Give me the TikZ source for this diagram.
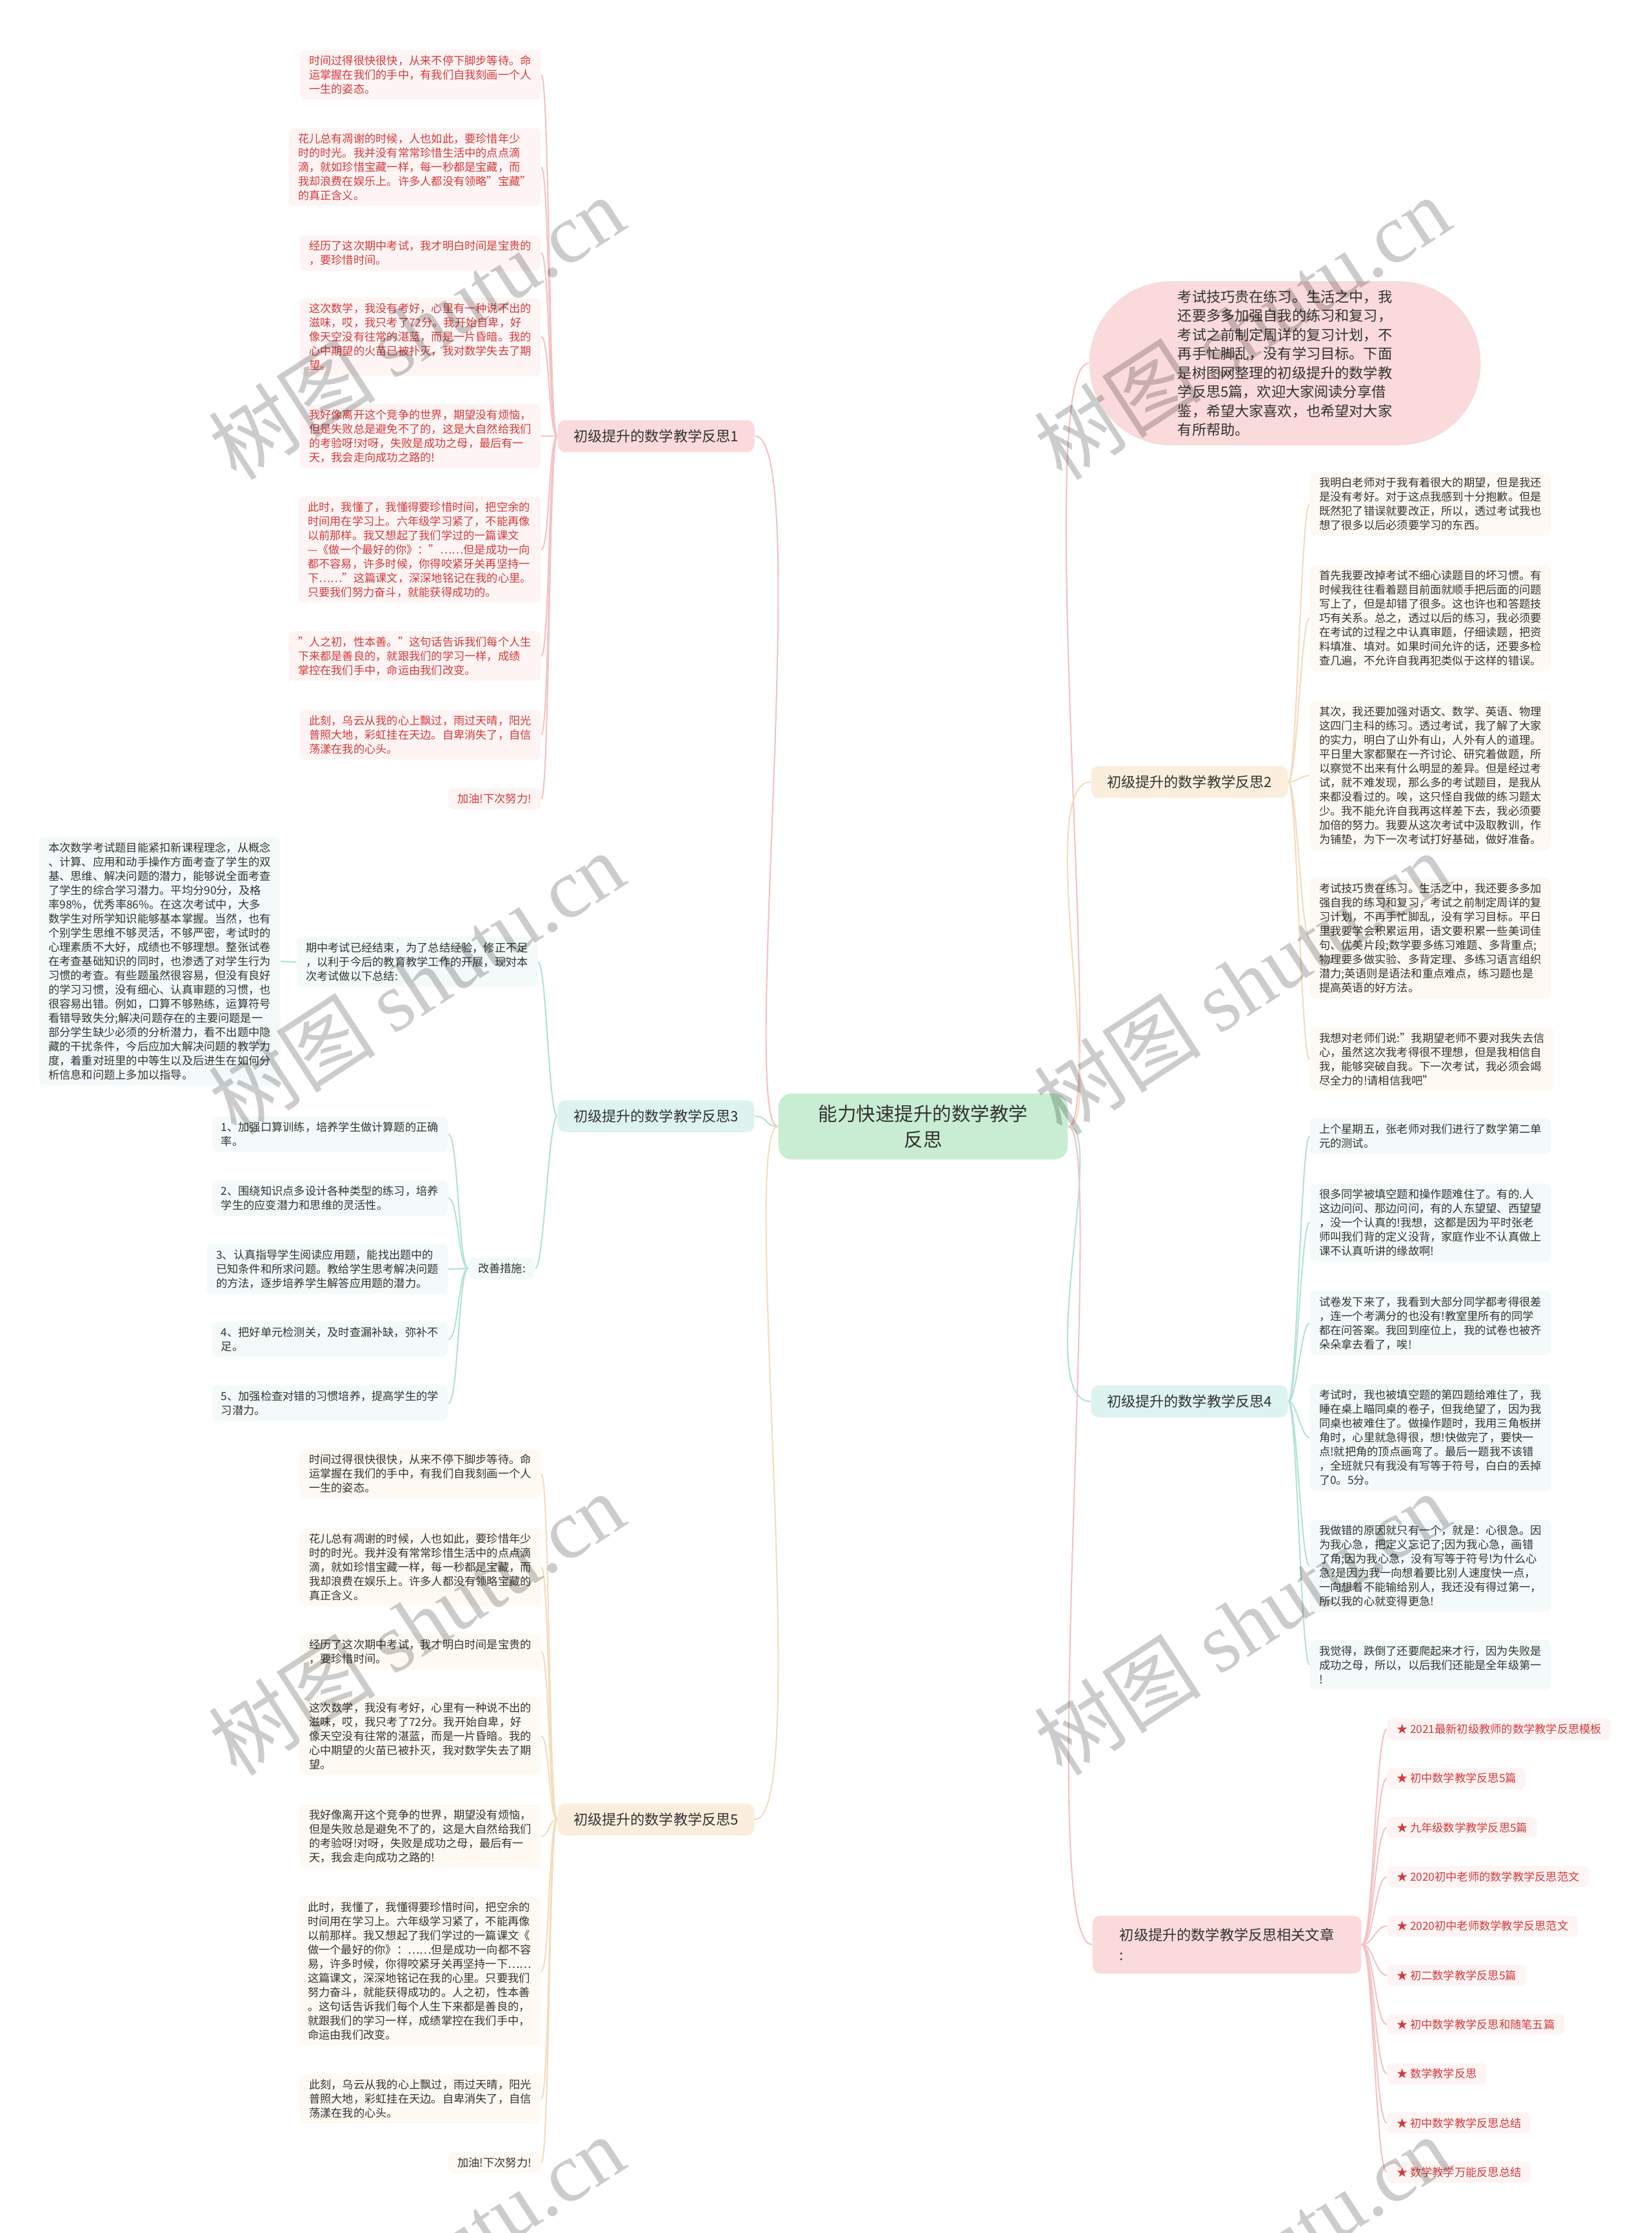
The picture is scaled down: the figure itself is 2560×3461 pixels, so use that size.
\documentclass[tikz,border=0pt]{standalone}
\usepackage{fontspec}
\setmainfont{Noto Sans CJK SC}
\newfontfamily\wmfont{Liberation Serif}
\definecolor{txt}{HTML}{333333}
\definecolor{tred}{HTML}{D23A3A}
\definecolor{cgreen}{HTML}{C8EDD3}
\definecolor{cpink}{HTML}{FADADA}
\definecolor{cmint}{HTML}{DDF3EF}
\definecolor{cbeige}{HTML}{FCEEDD}
\definecolor{lpink}{HTML}{FEF4F4}
\definecolor{lmint}{HTML}{F3FAF9}
\definecolor{lbeige}{HTML}{FEFAF3}
\definecolor{pline}{HTML}{F3C3C3}
\definecolor{mline}{HTML}{B3E2D9}
\definecolor{bline}{HTML}{F4DCBC}
\begin{document}
\begin{tikzpicture}[x=0.01cm, y=-0.01cm,
	root/.style={fill=cgreen, rounded corners=6pt, align=center, text=txt,
		font=\fontsize{8.4pt}{11.3pt}\selectfont, inner xsep=17.6pt, inner ysep=5pt},
	branch/.style={rounded corners=3.4pt, align=left, text=txt,
		font=\fontsize{6.3pt}{8.8pt}\selectfont, inner xsep=7pt, inner ysep=4.1pt},
	leaf/.style={rounded corners=2.3pt, align=left, text=txt,
		font=\fontsize{4.9pt}{6.26pt}\selectfont, inner xsep=4.1pt, inner ysep=2.4pt},
	oneleaf/.style={leaf, anchor=east, fill=lpink, text=tred},
	threeleaf/.style={leaf, anchor=east, fill=lmint},
	fiveleaf/.style={leaf, anchor=east, fill=lbeige},
	twoleaf/.style={leaf, anchor=west, fill=lbeige},
	fourleaf/.style={leaf, anchor=west, fill=lmint},
	relitem/.style={leaf, anchor=west, fill=lpink, text=tred},
	plink/.style={draw=pline, line width=0.6pt},
	mlink/.style={draw=mline, line width=0.6pt},
	blink/.style={draw=bline, line width=0.6pt},
	wmtext/.style={rotate=33, text=black, text opacity=0.2,
		font=\fontsize{37pt}{40pt}\selectfont},
	]
	\fill[white] (0,0) rectangle (2560,3461);
	\useasboundingbox (0,0) rectangle (2560,3461);
	
	% centre
	\node[root] (root) at (1431,1746) {能力快速提升的数学教学\\反思};
	
	% branches
	\node[branch, fill=cpink] (b1) at (1017,676) {初级提升的数学教学反思1};
	\node[branch, fill=cmint] (b3) at (1017,1730) {初级提升的数学教学反思3};
	\node[branch, fill=cbeige] (b5) at (1017,2820) {初级提升的数学教学反思5};
	\node[branch, fill=cbeige] (b2) at (1844,1212) {初级提升的数学教学反思2};
	\node[branch, fill=cmint] (b4) at (1844,2172) {初级提升的数学教学反思4};
	\node[branch, fill=cpink, anchor=west, inner xsep=12pt, inner ysep=5.6pt] (rel) at (1693,3014) {初级提升的数学教学反思相关文章\\:};
	\node[branch, fill=cpink, rounded corners=36pt, inner xsep=39pt, inner ysep=3.8pt,
		font=\fontsize{6.3pt}{8.4pt}\selectfont] (intro) at (1992,563) {考试技巧贵在练习。生活之中，我\\还要多多加强自我的练习和复习，\\考试之前制定周详的复习计划，不\\再手忙脚乱，没有学习目标。下面\\是树图网整理的初级提升的数学教\\学反思5篇，欢迎大家阅读分享借\\鉴，希望大家喜欢，也希望对大家\\有所帮助。};
	
	\draw[plink] (root.west) .. controls +(-60,0) and +(90,0) .. (b1.east);
	\draw[mlink] (root.west) .. controls +(-20,0) and +(20,0) .. (b3.east);
	\draw[blink] (root.west) .. controls +(-60,0) and +(90,0) .. (b5.east);
	\draw[plink] (root.east) .. controls +(60,0) and +(-90,0) .. (intro.west);
	\draw[blink] (root.east) .. controls +(60,0) and +(-90,0) .. (b2.west);
	\draw[mlink] (root.east) .. controls +(60,0) and +(-90,0) .. (b4.west);
	\draw[plink] (root.east) .. controls +(60,0) and +(-90,0) .. (rel.west);
	
	% reflection 1
	\node[oneleaf] (l1a) at (839,116) {时间过得很快很快，从来不停下脚步等待。命\\运掌握在我们的手中，有我们自我刻画一个人\\一生的姿态。};
	\node[oneleaf] (l1b) at (839,259) {花儿总有凋谢的时候，人也如此，要珍惜年少\\时的时光。我并没有常常珍惜生活中的点点滴\\滴，就如珍惜宝藏一样，每一秒都是宝藏，而\\我却浪费在娱乐上。许多人都没有领略"宝藏"\\的真正含义。};
	\node[oneleaf] (l1c) at (839,392) {经历了这次期中考试，我才明白时间是宝贵的\\，要珍惜时间。};
	\node[oneleaf] (l1d) at (839,522) {这次数学，我没有考好，心里有一种说不出的\\滋味，哎，我只考了72分。我开始自卑，好\\像天空没有往常的湛蓝，而是一片昏暗。我的\\心中期望的火苗已被扑灭，我对数学失去了期\\望。};
	\node[oneleaf] (l1e) at (839,676) {我好像离开这个竞争的世界，期望没有烦恼，\\但是失败总是避免不了的，这是大自然给我们\\的考验呀!对呀，失败是成功之母，最后有一\\天，我会走向成功之路的!};
	\node[oneleaf] (l1f) at (839,852) {此时，我懂了，我懂得要珍惜时间，把空余的\\时间用在学习上。六年级学习紧了，不能再像\\以前那样。我又想起了我们学过的一篇课文\\—《做一个最好的你》："……但是成功一向\\都不容易，许多时候，你得咬紧牙关再坚持一\\下……"这篇课文，深深地铭记在我的心里。\\只要我们努力奋斗，就能获得成功的。};
	\node[oneleaf] (l1g) at (839,1017) {"人之初，性本善。"这句话告诉我们每个人生\\下来都是善良的，就跟我们的学习一样，成绩\\掌控在我们手中，命运由我们改变。};
	\node[oneleaf] (l1h) at (839,1139) {此刻，乌云从我的心上飘过，雨过天晴，阳光\\普照大地，彩虹挂在天边。自卑消失了，自信\\荡漾在我的心头。};
	\node[oneleaf] (l1i) at (839,1238) {加油!下次努力!};
	\foreach \n in {l1a,l1b,l1c,l1d,l1e,l1f,l1g,l1h,l1i}
		\draw[plink] (b1.west) .. controls +(-13,0) and +(13,0) .. (\n.east);
	
	% reflection 3
	\node[threeleaf] (b3a) at (834,1491) {期中考试已经结束，为了总结经验，修正不足\\，以利于今后的教育教学工作的开展，现对本\\次考试做以下总结:};
	\node[threeleaf] (b3b) at (435,1490) {本次数学考试题目能紧扣新课程理念，从概念\\、计算、应用和动手操作方面考查了学生的双\\基、思维、解决问题的潜力，能够说全面考查\\了学生的综合学习潜力。平均分90分，及格\\率98\%，优秀率86\%。在这次考试中，大多\\数学生对所学知识能够基本掌握。当然，也有\\个别学生思维不够灵活，不够严密，考试时的\\心理素质不大好，成绩也不够理想。整张试卷\\在考查基础知识的同时，也渗透了对学生行为\\习惯的考查。有些题虽然很容易，但没有良好\\的学习习惯，没有细心、认真审题的习惯，也\\很容易出错。例如，口算不够熟练，运算符号\\看错导致失分;解决问题存在的主要问题是一\\部分学生缺少必须的分析潜力，看不出题中隐\\藏的干扰条件，今后应加大解决问题的教学力\\度，着重对班里的中等生以及后进生在如何分\\析信息和问题上多加以指导。};
	\node[threeleaf] (b3c) at (830,1966) {改善措施:};
	\node[threeleaf] (m1) at (695,1758) {1、加强口算训练，培养学生做计算题的正确\\率。};
	\node[threeleaf] (m2) at (695,1857) {2、围绕知识点多设计各种类型的练习，培养\\学生的应变潜力和思维的灵活性。};
	\node[threeleaf] (m3) at (695,1967) {3、认真指导学生阅读应用题，能找出题中的\\已知条件和所求问题。教给学生思考解决问题\\的方法，逐步培养学生解答应用题的潜力。};
	\node[threeleaf] (m4) at (695,2076) {4、把好单元检测关，及时查漏补缺，弥补不\\足。};
	\node[threeleaf] (m5) at (695,2175) {5、加强检查对错的习惯培养，提高学生的学\\习潜力。};
	\draw[mlink] (b3.west) .. controls +(-13,0) and +(13,0) .. (b3a.east);
	\draw[mlink] (b3.west) .. controls +(-13,0) and +(13,0) .. (b3c.east);
	\draw[mlink] (b3a.west) -- (b3b.east);
	\foreach \n in {m1,m2,m3,m4,m5}
		\draw[mlink] (b3c.west) .. controls +(-16,0) and +(16,0) .. (\n.east);
	
	% reflection 5
	\node[fiveleaf] (l5a) at (839,2284) {时间过得很快很快，从来不停下脚步等待。命\\运掌握在我们的手中，有我们自我刻画一个人\\一生的姿态。};
	\node[fiveleaf] (l5b) at (839,2429) {花儿总有凋谢的时候，人也如此，要珍惜年少\\时的时光。我并没有常常珍惜生活中的点点滴\\滴，就如珍惜宝藏一样，每一秒都是宝藏，而\\我却浪费在娱乐上。许多人都没有领略宝藏的\\真正含义。};
	\node[fiveleaf] (l5c) at (839,2560) {经历了这次期中考试，我才明白时间是宝贵的\\，要珍惜时间。};
	\node[fiveleaf] (l5d) at (839,2691) {这次数学，我没有考好，心里有一种说不出的\\滋味，哎，我只考了72分。我开始自卑，好\\像天空没有往常的湛蓝，而是一片昏暗。我的\\心中期望的火苗已被扑灭，我对数学失去了期\\望。};
	\node[fiveleaf] (l5e) at (839,2846) {我好像离开这个竞争的世界，期望没有烦恼，\\但是失败总是避免不了的，这是大自然给我们\\的考验呀!对呀，失败是成功之母，最后有一\\天，我会走向成功之路的!};
	\node[fiveleaf] (l5f) at (839,3055) {此时，我懂了，我懂得要珍惜时间，把空余的\\时间用在学习上。六年级学习紧了，不能再像\\以前那样。我又想起了我们学过的一篇课文《\\做一个最好的你》：……但是成功一向都不容\\易，许多时候，你得咬紧牙关再坚持一下……\\这篇课文，深深地铭记在我的心里。只要我们\\努力奋斗，就能获得成功的。人之初，性本善\\。这句话告诉我们每个人生下来都是善良的，\\就跟我们的学习一样，成绩掌控在我们手中，\\命运由我们改变。};
	\node[fiveleaf] (l5g) at (839,3253) {此刻，乌云从我的心上飘过，雨过天晴，阳光\\普照大地，彩虹挂在天边。自卑消失了，自信\\荡漾在我的心头。};
	\node[fiveleaf] (l5h) at (839,3352) {加油!下次努力!};
	\foreach \n in {l5a,l5b,l5c,l5d,l5e,l5f,l5g,l5h}
		\draw[blink] (b5.west) .. controls +(-13,0) and +(13,0) .. (\n.east);
	
	% reflection 2
	\node[twoleaf] (l2a) at (2030,781) {我明白老师对于我有着很大的期望，但是我还\\是没有考好。对于这点我感到十分抱歉。但是\\既然犯了错误就要改正，所以，透过考试我也\\想了很多以后必须要学习的东西。};
	\node[twoleaf] (l2b) at (2030,958) {首先我要改掉考试不细心读题目的坏习惯。有\\时候我往往看着题目前面就顺手把后面的问题\\写上了，但是却错了很多。这也许也和答题技\\巧有关系。总之，透过以后的练习，我必须要\\在考试的过程之中认真审题，仔细读题，把资\\料填准、填对。如果时间允许的话，还要多检\\查几遍，不允许自我再犯类似于这样的错误。};
	\node[twoleaf] (l2c) at (2030,1202) {其次，我还要加强对语文、数学、英语、物理\\这四门主科的练习。透过考试，我了解了大家\\的实力，明白了山外有山，人外有人的道理。\\平日里大家都聚在一齐讨论、研究着做题，所\\以察觉不出来有什么明显的差异。但是经过考\\试，就不难发现，那么多的考试题目，是我从\\来都没看过的。唉，这只怪自我做的练习题太\\少。我不能允许自我再这样差下去，我必须要\\加倍的努力。我要从这次考试中汲取教训，作\\为铺垫，为下一次考试打好基础，做好准备。};
	\node[twoleaf] (l2d) at (2030,1454) {考试技巧贵在练习。生活之中，我还要多多加\\强自我的练习和复习，考试之前制定周详的复\\习计划，不再手忙脚乱，没有学习目标。平日\\里我要学会积累运用，语文要积累一些美词佳\\句、优美片段;数学要多练习难题、多背重点;\\物理要多做实验、多背定理、多练习语言组织\\潜力;英语则是语法和重点难点，练习题也是\\提高英语的好方法。};
	\node[twoleaf] (l2e) at (2030,1642) {我想对老师们说:"我期望老师不要对我失去信\\心，虽然这次我考得很不理想，但是我相信自\\我，能够突破自我。下一次考试，我必须会竭\\尽全力的!请相信我吧"};
	\foreach \n in {l2a,l2b,l2c,l2d,l2e}
		\draw[blink] (b2.east) .. controls +(13,0) and +(-13,0) .. (\n.west);
	
	% reflection 4
	\node[fourleaf] (l4a) at (2030,1761) {上个星期五，张老师对我们进行了数学第二单\\元的测试。};
	\node[fourleaf] (l4b) at (2030,1895) {很多同学被填空题和操作题难住了。有的.人\\这边问问、那边问问，有的人东望望、西望望\\，没一个认真的!我想，这都是因为平时张老\\师叫我们背的定义没背，家庭作业不认真做上\\课不认真听讲的缘故啊!};
	\node[fourleaf] (l4c) at (2030,2051) {试卷发下来了，我看到大部分同学都考得很差\\，连一个考满分的也没有!教室里所有的同学\\都在问答案。我回到座位上，我的试卷也被齐\\朵朵拿去看了，唉!};
	\node[fourleaf] (l4d) at (2030,2228) {考试时，我也被填空题的第四题给难住了，我\\睡在桌上瞄同桌的卷子，但我绝望了，因为我\\同桌也被难住了。做操作题时，我用三角板拼\\角时，心里就急得很，想!快做完了，要快一\\点!就把角的顶点画弯了。最后一题我不该错\\，全班就只有我没有写等于符号，白白的丢掉\\了0。5分。};
	\node[fourleaf] (l4e) at (2030,2427) {我做错的原因就只有一个，就是：心很急。因\\为我心急，把定义忘记了;因为我心急，画错\\了角;因为我心急，没有写等于符号!为什么心\\急?是因为我一向想着要比别人速度快一点，\\一向想着不能输给别人，我还没有得过第一，\\所以我的心就变得更急!};
	\node[fourleaf] (l4f) at (2030,2580) {我觉得，跌倒了还要爬起来才行，因为失败是\\成功之母，所以，以后我们还能是全年级第一\\!};
	\foreach \n in {l4a,l4b,l4c,l4d,l4e,l4f}
		\draw[mlink] (b4.east) .. controls +(13,0) and +(-13,0) .. (\n.west);
	
	% related articles
	\foreach \t [count=\i] in {★ 2021最新初级教师的数学教学反思模板, ★ 初中数学教学反思5篇,
		★ 九年级数学教学反思5篇, ★ 2020初中老师的数学教学反思范文, ★ 2020初中老师数学教学反思范文,
		★ 初二数学教学反思5篇, ★ 初中数学教学反思和随笔五篇, ★ 数学教学反思,
		★ 初中数学教学反思总结, ★ 数学教学万能反思总结}{
		\node[relitem] (r\i) at (2150,{2680+(\i-1)*76.3}) {\t};
		\draw[plink] (rel.east) .. controls +(18,0) and +(-18,0) .. (r\i.west);
	}
	
	% watermark
	\foreach \x/\y [count=\i] in {645/508, 1925/508, 645/1523, 1925/1523, 645/2516, 1925/2516, 645/3513, 1925/3513}
		\node[wmtext] (wm\i) at (\x,\y) {树图 {\wmfont shutu.cn}};
\end{tikzpicture}
\end{document}
